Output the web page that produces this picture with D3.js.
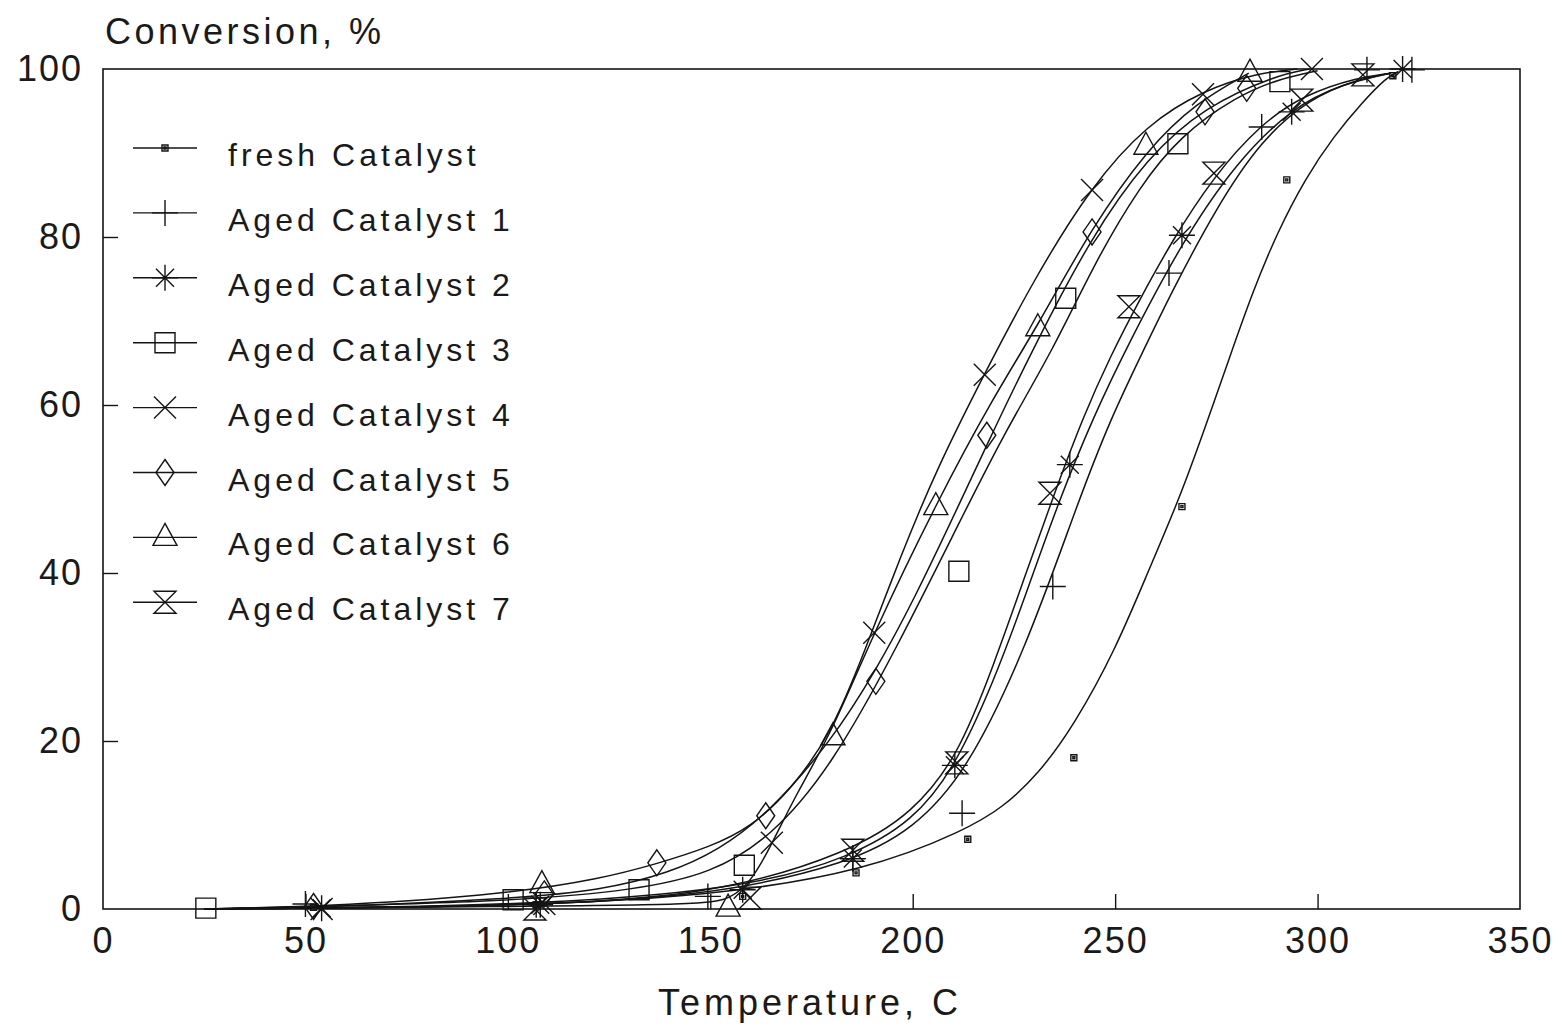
<!DOCTYPE html>
<html lang="en">
<head>
    <meta charset="UTF-8">
    <title>Conversion vs Temperature</title>
    <script src="https://d3js.org/d3.v7.min.js"></script>
    <style>
        body { margin: 0; background: #fff; }
        text { font-family: "Liberation Sans", Arial, sans-serif; fill: #1a1a1a; }
    </style>
</head>
<body>
    <div id="chart"></div>
    <script>
        const width = 1562;
        const height = 1026;

        // series names and marker shapes
        const seriesNames = ["fresh Catalyst", "Aged Catalyst 1", "Aged Catalyst 2", "Aged Catalyst 3",
            "Aged Catalyst 4", "Aged Catalyst 5", "Aged Catalyst 6", "Aged Catalyst 7"];
        const seriesShapes = ["dot", "plus", "asterisk", "square", "cross", "diamond", "triangle", "hourglass"];

        // measured points [temperature, conversion]
        const freshPoints = [[52, 0.2], [107, 0.5], [158, 1.5], [186, 4.3], [213.6, 8.3], [239.8, 18], [266.5, 47.9], [292.4, 86.8], [318.6, 99.2]];
        const aged1Points = [[50, 0.6], [107, 0.5], [149.4, 1.5], [185.2, 6], [212.2, 11.4], [234.6, 38.4], [263.3, 75.7], [286.2, 93.1], [312.2, 99.9], [323.3, 99.9]];
        const aged2Points = [[54, 0.1], [108, 0.5], [158, 2.3], [185.2, 6], [210.4, 17.1], [238.8, 52.9], [266.5, 80.2], [293.6, 94.9], [321, 100]];
        const aged3Points = [[25.4, 0.1], [101.3, 1.1], [132.4, 2.3], [158.4, 5.2], [211.4, 40.2], [237.8, 72.7], [265.5, 91.1], [290.7, 98.5]];
        const aged4Points = [[54, 0], [109, 0.6], [165.2, 7.9], [190.5, 32.9], [217.8, 63.6], [244.3, 85.6], [271.7, 97], [298.6, 100]];
        const aged5Points = [[52, 0.3], [109, 1.8], [136.8, 5.5], [163.7, 11.1], [190.9, 27.1], [218.3, 56.4], [244.3, 80.6], [272.2, 94.9], [282.5, 97.7]];
        const aged6Points = [[108.4, 2.9], [154.4, 0.1], [180.3, 20.5], [205.7, 47.9], [230.9, 69.2], [257.6, 90.8], [283.3, 99.5]];
        const aged7Points = [[106.7, 0], [159.8, 1.3], [185.2, 7], [210.9, 17.4], [233.9, 49.5], [253.4, 71.7], [274.4, 87.6], [296.1, 96.3], [311.2, 99.3]];

        // fitted curves [temperature, conversion]
        const freshCurve = [[25, 0], [100, 0.3], [150, 1.5], [189, 4.6], [213, 9.4], [222, 12], [231, 16], [240, 22], [250, 30.8], [258, 40], [266, 49], [272, 57], [278.5, 66], [284, 73.5], [290, 80.5], [297, 87], [304, 92], [311, 96], [317, 99], [320, 99.7]];
        const aged1Curve = [[25, 0], [100, 0.3], [150, 1.5], [185, 5.5], [200, 9.5], [213, 16], [228, 31], [241, 48.7], [249, 58.5], [257, 66.5], [264, 73.5], [275, 83.5], [286, 91.5], [298, 96.5], [310, 98.8], [318, 99.5]];
        const aged2Curve = [[25, 0], [100, 0.3], [158, 2.3], [185, 6.2], [200, 10.5], [210, 16.5], [220, 27], [228, 37.5], [236, 48.5], [245, 59], [253, 67], [266, 79], [280, 89], [294, 95.5], [306, 98.2], [318, 99.5]];
        const aged3Curve = [[25, 0], [100, 0.8], [132, 2.3], [150, 4.2], [165, 8.5], [180, 17], [196, 31], [212, 46.5], [223, 57], [234.6, 66.5], [245, 77], [256, 86], [266, 92], [280, 96.8], [291, 98.9], [300, 99.8]];
        const aged4Curve = [[25, 0], [60, 0.4], [100, 1.8], [123, 3.6], [137, 5.4], [150, 7.4], [160, 9.7], [170, 14.2], [180, 21], [188, 30.5], [197, 42], [206, 52.5], [218, 64], [230, 75], [244, 86], [258, 93.5], [272, 97.5], [285, 99.5], [295, 100]];
        const aged5Curve = [[25, 0], [60, 0.3], [100, 1.2], [123, 2.2], [140, 4.3], [152, 7], [164, 11.2], [180, 20], [191, 28.5], [200, 36.5], [212, 48.7], [220, 57], [229, 66], [244, 80], [258, 89.5], [272, 95.5], [290, 99.3], [298, 100]];
        const aged6Curve = [[25, 0], [100, 0.3], [148, 0.5], [155, 1.2], [160, 3.2], [165, 7.5], [171, 13.5], [180, 21], [190, 32.5], [206, 48.5], [220, 61], [231, 69.5], [244, 81], [258, 90.5], [270, 96], [283, 99.5]];
        const aged7Curve = [[25, 0], [100, 0.3], [150, 1.5], [185, 6.8], [200, 11.5], [211, 18], [220, 29], [228, 40], [235, 49.5], [242, 58.5], [249, 66], [256, 72.5], [264, 79.5], [274, 87], [286, 93.5], [297, 97], [310, 99], [318, 99.5]];

        const seriesPoints = [freshPoints, aged1Points, aged2Points, aged3Points, aged4Points, aged5Points, aged6Points, aged7Points];
        const seriesCurves = [freshCurve, aged1Curve, aged2Curve, aged3Curve, aged4Curve, aged5Curve, aged6Curve, aged7Curve];

        const xTicks = [0, 50, 100, 150, 200, 250, 300, 350];
        const yTicks = [0, 20, 40, 60, 80, 100];

        const svg = d3.select("#chart")
            .append("svg")
            .attr("width", width)
            .attr("height", height);

        const x = d3.scaleLinear().domain([0, 350]).range([103, 1520]);
        const y = d3.scaleLinear().domain([0, 100]).range([909, 69]);

        const ink = "#141414";

        // frame
        svg.append("rect")
            .attr("x", x(0)).attr("y", y(100))
            .attr("width", x(350) - x(0)).attr("height", y(0) - y(100))
            .attr("fill", "none").attr("stroke", ink).attr("stroke-width", 1.6);

        // x axis, inward ticks
        const xAxis = svg.append("g")
            .attr("transform", `translate(0,${y(0)})`)
            .call(d3.axisBottom(x).tickValues(xTicks).tickSizeInner(-15).tickSizeOuter(0).tickPadding(18));
        xAxis.select(".domain").remove();
        xAxis.selectAll(".tick line").attr("stroke", ink).attr("stroke-width", 1.4)
            .filter(d => d === 0 || d === 350).remove();
        xAxis.selectAll(".tick text").attr("font-size", 36).attr("letter-spacing", 2).attr("fill", "#1a1a1a");

        // y axis, inward ticks
        const yAxis = svg.append("g")
            .attr("transform", `translate(${x(0)},0)`)
            .call(d3.axisLeft(y).tickValues(yTicks).tickSizeInner(-15).tickSizeOuter(0).tickPadding(20));
        yAxis.select(".domain").remove();
        yAxis.selectAll(".tick line").attr("stroke", ink).attr("stroke-width", 1.4)
            .filter(d => d === 0 || d === 100).remove();
        yAxis.selectAll(".tick text").attr("font-size", 36).attr("letter-spacing", 2).attr("fill", "#1a1a1a");

        // axis titles
        svg.append("text")
            .attr("x", 105).attr("y", 44)
            .attr("font-size", 36).attr("letter-spacing", 3.5)
            .text("Conversion, %");

        svg.append("text")
            .attr("x", 810).attr("y", 1015)
            .attr("text-anchor", "middle")
            .attr("font-size", 36).attr("letter-spacing", 4)
            .text("Temperature, C");

        // marker path generator
        function markerPath(shape) {
            switch (shape) {
                case "dot": return "M-3,-3H3V3H-3Z M-1,-1H1V1H-1Z";
                case "plus": return "M-13,0H13 M0,-13V13";
                case "asterisk": return "M-13,0H13 M0,-13V13 M-9,-9L9,9 M-9,9L9,-9";
                case "square": return "M-10,-10H10V10H-10Z";
                case "cross": return "M-11,-11L11,11 M-11,11L11,-11";
                case "diamond": return "M0,-13L9,0L0,13L-9,0Z";
                case "triangle": return "M0,-14L12,8H-12Z";
                case "hourglass": return "M-11,-11H11L-11,11H11Z";
            }
        }

        const line = d3.line()
            .x(d => x(d[0]))
            .y(d => y(d[1]))
            .curve(d3.curveBasis);

        const plot = svg.append("g");

        seriesCurves.forEach(function (curve) {
            plot.append("path")
                .attr("d", line(curve))
                .attr("fill", "none")
                .attr("stroke", ink)
                .attr("stroke-width", 1.5);
        });

        seriesPoints.forEach(function (pts, i) {
            plot.selectAll(null)
                .data(pts)
                .enter()
                .append("path")
                .attr("transform", d => `translate(${x(d[0])},${y(d[1])})`)
                .attr("d", markerPath(seriesShapes[i]))
                .attr("fill", "none")
                .attr("stroke", ink)
                .attr("stroke-width", 1.4);
        });

        // legend
        const legend = svg.append("g");
        const rows = legend.selectAll("g")
            .data(seriesNames)
            .enter()
            .append("g")
            .attr("transform", (d, i) => `translate(0,${148 + i * 64.9})`);

        rows.append("line")
            .attr("x1", 133).attr("x2", 197)
            .attr("stroke", ink).attr("stroke-width", 1.4);

        rows.append("path")
            .attr("transform", "translate(165,0)")
            .attr("d", (d, i) => markerPath(seriesShapes[i]))
            .attr("fill", "none")
            .attr("stroke", ink)
            .attr("stroke-width", 1.4);

        rows.append("text")
            .attr("x", 228).attr("y", 18)
            .attr("font-size", 32).attr("letter-spacing", 4)
            .text(d => d);
    </script>
</body>
</html>
